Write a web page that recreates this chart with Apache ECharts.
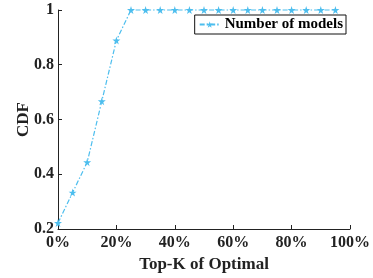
<!DOCTYPE html>
<html>
<head>
<meta charset="utf-8">
<script src="https://cdn.jsdelivr.net/npm/echarts@6/dist/echarts.min.js"></script>
<style>
html, body { margin: 0; padding: 0; background: #fff; }
#chart { width: 373px; height: 278px; }
</style>
</head>
<body>
<div id="chart"></div>
<script>
// Top-K of Optimal (%) and CDF values
var topK = [0, 5, 10, 15, 20, 25, 30, 35, 40, 45, 50, 55, 60, 65, 70, 75, 80, 85, 90, 95];
var cdf = [0.222, 0.333, 0.444, 0.667, 0.889, 1, 1, 1, 1, 1, 1, 1, 1, 1, 1, 1, 1, 1, 1, 1];
var yTicks = [0.2, 0.4, 0.6, 0.8, 1];
var seriesName = 'Number of models';

var font = 'Liberation Serif';
var star = 'path://M50,0 L61,35 L98,35 L68,57 L79,91 L50,70 L21,91 L32,57 L2,35 L39,35 Z';

var chart = echarts.init(document.getElementById('chart'));

var option = {
    animation: false,
    grid: { left: 58, right: 22, top: 10, bottom: 47 },
    legend: {
        data: [seriesName],
        right: 27,
        top: 15,
        itemWidth: 20,
        itemHeight: 8,
        itemGap: 4,
        padding: [2, 3, 2, 4],
        borderColor: '#111',
        borderWidth: 1,
        textStyle: { fontFamily: font, fontWeight: 'bold', fontSize: 15, color: '#000' }
    },
    xAxis: {
        type: 'value',
        min: 0, max: 100, interval: 20,
        name: 'Top-K of Optimal',
        nameLocation: 'middle',
        nameGap: 27,
        nameMoveOverlap: false,
        nameTextStyle: { fontFamily: font, fontWeight: 'bold', fontSize: 17, color: '#222' },
        axisLine: { lineStyle: { color: '#222', width: 1 } },
        axisTick: { inside: true, length: 4, lineStyle: { color: '#222' } },
        axisLabel: { fontFamily: font, fontWeight: 'bold', fontSize: 16, color: '#222', margin: 6,
            formatter: function (v) { return v + '%'; } },
        splitLine: { show: false }
    },
    yAxis: {
        type: 'value',
        min: 0.2, max: 1, interval: 0.2,
        name: 'CDF',
        nameLocation: 'middle',
        nameGap: 26,
        nameMoveOverlap: false,
        nameTextStyle: { fontFamily: font, fontWeight: 'bold', fontSize: 17, color: '#222' },
        axisLine: { show: true, lineStyle: { color: '#222', width: 1 } },
        axisTick: { show: true, inside: true, length: 4, lineStyle: { color: '#222' } },
        axisLabel: { fontFamily: font, fontWeight: 'bold', fontSize: 16, color: '#222', margin: 4,
            formatter: function (v) {
                var t = yTicks.find(function (k) { return Math.abs(k - v) < 1e-6; });
                return t === undefined ? '' : String(+t.toFixed(1));
            } },
        splitLine: { show: false }
    },
    series: [{
        name: seriesName,
        type: 'line',
        data: topK.map(function (x, i) { return [x, cdf[i]]; }),
        symbol: star,
        symbolSize: 8,
        showAllSymbol: true,
        itemStyle: { color: '#4DBEEE' },
        lineStyle: { color: '#4DBEEE', width: 1.2, type: [5, 2, 1.5, 2] },
        clip: false
    }]
};
chart.setOption(option);
</script>
</body>
</html>
